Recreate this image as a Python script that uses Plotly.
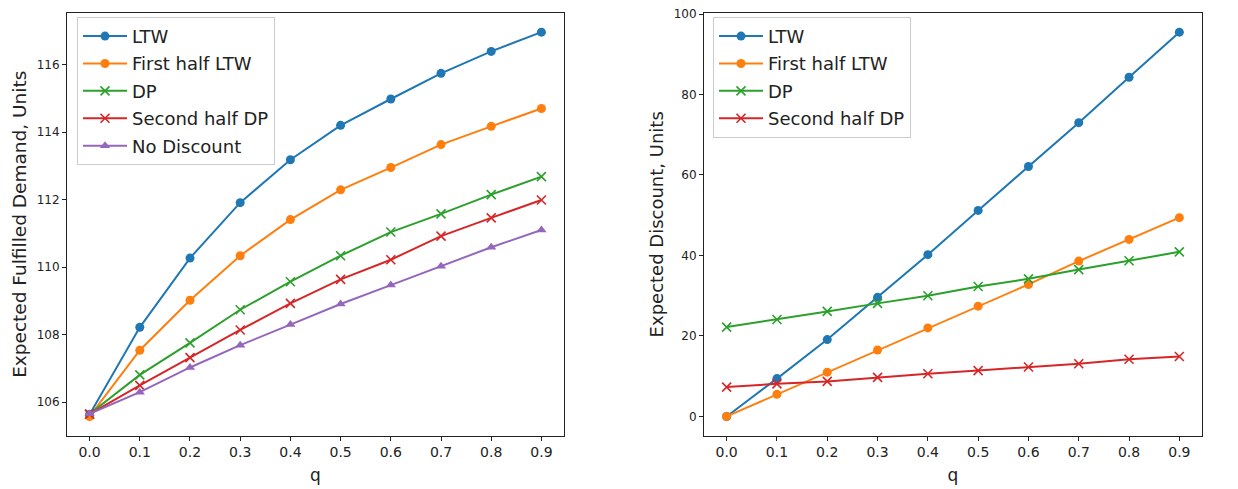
import plotly.graph_objects as go

q = [0.0, 0.1, 0.2, 0.3, 0.4, 0.5, 0.6, 0.7, 0.8, 0.9]

# Expected fulfilled demand (left panel)
demand_ltw = [105.64, 108.22, 110.27, 111.91, 113.18, 114.20, 114.98, 115.74, 116.39, 116.96]
demand_first_half_ltw = [105.58, 107.54, 109.02, 110.34, 111.41, 112.29, 112.95, 113.63, 114.17, 114.70]
demand_dp = [105.65, 106.81, 107.76, 108.74, 109.57, 110.34, 111.04, 111.58, 112.15, 112.68]
demand_second_half_dp = [105.65, 106.50, 107.32, 108.14, 108.93, 109.64, 110.22, 110.92, 111.46, 111.99]
demand_no_discount = [105.66, 106.30, 107.03, 107.69, 108.30, 108.91, 109.47, 110.03, 110.59, 111.10]

# Expected discount (right panel)
discount_ltw = [0.0, 9.4, 19.1, 29.6, 40.2, 51.2, 62.1, 73.0, 84.3, 95.5]
discount_first_half_ltw = [0.0, 5.5, 11.0, 16.5, 22.0, 27.4, 32.8, 38.6, 44.0, 49.4]
discount_dp = [22.2, 24.1, 26.1, 28.1, 30.0, 32.3, 34.2, 36.5, 38.7, 40.9]
discount_second_half_dp = [7.3, 8.1, 8.7, 9.7, 10.6, 11.4, 12.3, 13.1, 14.2, 14.9]

left_yticks = [106, 108, 110, 112, 114, 116]
right_yticks = [0, 20, 40, 60, 80, 100]

BLUE, ORANGE, GREEN, RED, PURPLE = "#1f77b4", "#ff7f0e", "#2ca02c", "#d62728", "#9467bd"
FONT = "DejaVu Sans"
INK = "#222"


def series(x, y, name, color, symbol, xa, ya, legend):
    marker = dict(size=9, color=color, symbol=symbol)
    if symbol == "x":
        marker = dict(size=9, symbol="x-thin", line=dict(color=color, width=1.6), color=color)
    return go.Scatter(
        x=x, y=y, name=name, mode="lines+markers",
        line=dict(color=color, width=2), marker=marker,
        xaxis=xa, yaxis=ya, legend=legend, legendgroup=name + legend,
    )


fig = go.Figure()
fig.add_trace(series(q, demand_ltw, "LTW", BLUE, "circle", "x", "y", "legend"))
fig.add_trace(series(q, demand_first_half_ltw, "First half LTW", ORANGE, "circle", "x", "y", "legend"))
fig.add_trace(series(q, demand_dp, "DP", GREEN, "x", "x", "y", "legend"))
fig.add_trace(series(q, demand_second_half_dp, "Second half DP", RED, "x", "x", "y", "legend"))
fig.add_trace(series(q, demand_no_discount, "No Discount", PURPLE, "triangle-up", "x", "y", "legend"))

fig.add_trace(series(q, discount_ltw, "LTW", BLUE, "circle", "x2", "y2", "legend2"))
fig.add_trace(series(q, discount_first_half_ltw, "First half LTW", ORANGE, "circle", "x2", "y2", "legend2"))
fig.add_trace(series(q, discount_dp, "DP", GREEN, "x", "x2", "y2", "legend2"))
fig.add_trace(series(q, discount_second_half_dp, "Second half DP", RED, "x", "x2", "y2", "legend2"))


def pad_range(vals, frac=0.05):
    lo, hi = min(vals), max(vals)
    d = (hi - lo) * frac
    return [lo - d, hi + d]


all_left = demand_ltw + demand_first_half_ltw + demand_dp + demand_second_half_dp + demand_no_discount
all_right = discount_ltw + discount_first_half_ltw + discount_dp + discount_second_half_dp

W, H = 1238, 489
y_dom = [1 - 435 / H, 1 - 7 / H]

axis_common = dict(
    showline=True, linecolor=INK, linewidth=1, mirror=True,
    ticks="outside", ticklen=4, tickcolor=INK, showgrid=False, zeroline=False,
)

xaxis_common = dict(
    axis_common, range=pad_range(q), tickvals=q, ticktext=[f"{v:.1f}" for v in q],
    tickfont=dict(size=14, color=INK, family=FONT),
    title=dict(text="q", font=dict(size=17, color=INK, family=FONT), standoff=9),
)

legend_common = dict(
    y=1 - 11 / H, xanchor="left", yanchor="top",
    bgcolor="rgba(255,255,255,0.8)", bordercolor="#cccccc", borderwidth=1,
    font=dict(size=18, color=INK, family=FONT), tracegroupgap=1,
    traceorder="grouped", itemwidth=44,
)

fig.update_layout(
    width=W, height=H,
    margin=dict(l=0, r=0, t=0, b=0),
    paper_bgcolor="white", plot_bgcolor="white",
    font=dict(family=FONT, color=INK),
    xaxis=dict(xaxis_common, domain=[67 / W, 564 / W], anchor="y"),
    xaxis2=dict(xaxis_common, domain=[704 / W, 1202 / W], anchor="y2"),
    yaxis=dict(
        axis_common, domain=y_dom, anchor="x", range=pad_range(all_left),
        tickvals=left_yticks, ticktext=[str(v) for v in left_yticks],
        tickfont=dict(size=12, color=INK, family=FONT),
        title=dict(text="Expected Fulfilled Demand, Units",
                   font=dict(size=18.5, color=INK, family=FONT), standoff=5),
    ),
    yaxis2=dict(
        axis_common, domain=y_dom, anchor="x2", range=pad_range(all_right),
        tickvals=right_yticks, ticktext=[str(v) for v in right_yticks],
        tickfont=dict(size=12, color=INK, family=FONT),
        title=dict(text="Expected Discount, Units",
                   font=dict(size=18, color=INK, family=FONT), standoff=5),
    ),
    legend=dict(legend_common, x=77 / W),
    legend2=dict(legend_common, x=713 / W),
    showlegend=True,
)

fig.write_html("out.html")
